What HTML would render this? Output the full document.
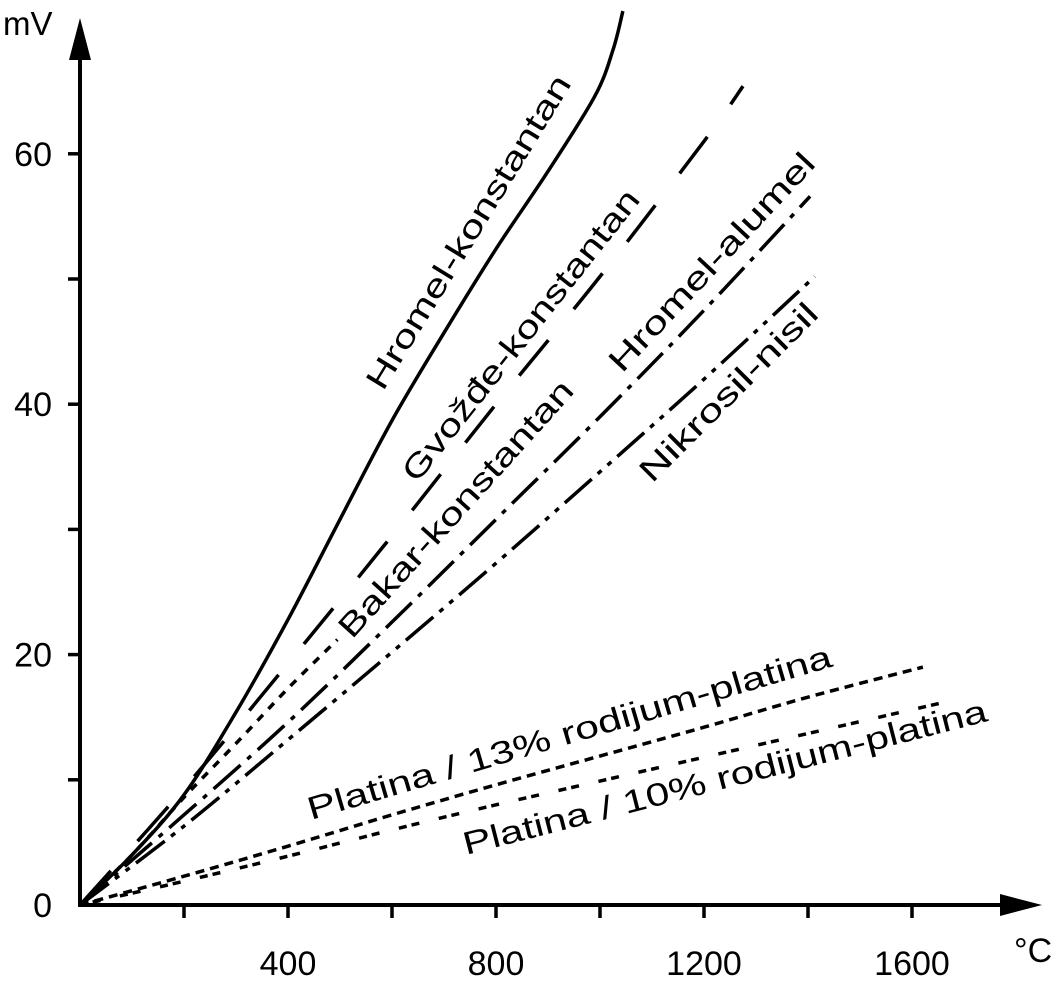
<!DOCTYPE html>
<html><head><meta charset="utf-8"><style>
html,body{margin:0;padding:0;background:#fff;}
svg{display:block;font-family:"Liberation Sans",sans-serif;}
</style></head><body>
<svg id="chart" width="1055" height="991" viewBox="0 0 1055 991" xmlns="http://www.w3.org/2000/svg">
<g id="axes"></g>
<g id="series"></g>
<g id="labels" font-size="32" fill="#000"></g>
</svg>
<script>
const xTicks = [200,400,600,800,1000,1200,1400,1600];
const xTickLabels = ["400","800","1200","1600"];
const xTickLabelValues = [400,800,1200,1600];
const yTicks = [10,20,30,40,50,60];
const yTickLabels = ["0","20","40","60"];
const yTickLabelValues = [0,20,40,60];

const hkT = [0,100,200,300,400,500,600,700,800,900,990,1025,1044];
const hkV = [0,4.0,8.8,15.4,22.8,30.8,38.7,45.7,52.4,58.6,64.6,68.3,71.4];
const gkT = [0,200,400,600,800,1000,1200,1275];
const gkV = [0,9.3,19.3,29.5,40,50.2,61,65.4];
const bkT = [0,100,200,300,400,495];
const bkV = [0,4,8.6,12.9,17.3,21.2];
const haT = [0,200,400,600,800,1000,1200,1404];
const haV = [0,7.2,14.6,22.6,30.8,39,47.5,56.6];
const nnT = [0,200,400,600,800,1000,1200,1413];
const nnV = [0,6.3,13.2,20.2,27.3,34.6,42,50.2];
const p13T = [0,200,400,600,800,1000,1200,1400,1621];
const p13V = [0,2.3,4.7,7.2,9.6,11.9,14.2,16.6,19.0];
const p10T = [0,200,400,600,800,1000,1200,1400,1663];
const p10V = [0,1.9,3.9,6.0,8.0,9.9,11.8,13.7,16.2];

const X0=80, Y0=905;
function xs(t){return X0 + t*0.52;}
function ys(v){return Y0 - v*12.52;}
const NS="http://www.w3.org/2000/svg";
function mk(tag, parent){const e=document.createElementNS(NS,tag);parent.appendChild(e);return e;}

const axes=document.getElementById('axes');
let yl=mk('line',axes);


yl.setAttribute('x1',X0);yl.setAttribute('y1',Y0+2);yl.setAttribute('x2',X0);yl.setAttribute('y2',50);
yl.setAttribute('stroke','#000');yl.setAttribute('stroke-width','4');
let ya=mk('polygon',axes);


ya.setAttribute('points','80,18 69,60 91,60');
let xl=mk('line',axes);


xl.setAttribute('x1',X0-2);xl.setAttribute('y1',Y0);xl.setAttribute('x2',1010);xl.setAttribute('y2',Y0);
xl.setAttribute('stroke','#000');xl.setAttribute('stroke-width','4');
let xa=mk('polygon',axes);


xa.setAttribute('points','1042,905 1000,894 1000,916');

xTicks.forEach(t=>{
  let l=mk('line',axes);
  
  
  l.setAttribute('x1',xs(t));l.setAttribute('x2',xs(t));l.setAttribute('y1',Y0);l.setAttribute('y2',Y0+13);
  l.setAttribute('stroke','#000');l.setAttribute('stroke-width','3.5');
});
yTicks.forEach(v=>{
  let l=mk('line',axes);
  
  
  l.setAttribute('x1',X0-12);l.setAttribute('x2',X0);l.setAttribute('y1',ys(v));l.setAttribute('y2',ys(v));
  l.setAttribute('stroke','#000');l.setAttribute('stroke-width','3.5');
});
xTickLabels.forEach((s,i)=>{
  let t=mk('text',axes);
  
  
  t.setAttribute('x',xs(xTickLabelValues[i]));t.setAttribute('y',975);
  t.setAttribute('text-anchor','middle');t.setAttribute('font-size','34');
  t.textContent=s;
});
yTickLabels.forEach((s,i)=>{
  let t=mk('text',axes);
  
  
  t.setAttribute('x',52);t.setAttribute('y',ys(yTickLabelValues[i])+12);
  t.setAttribute('text-anchor','end');t.setAttribute('font-size','34');
  t.textContent=s;
});
let mv=mk('text',axes);


mv.setAttribute('x',3);mv.setAttribute('y',35);mv.setAttribute('font-size','33');
mv.textContent='mV';
let dc=mk('text',axes);


dc.setAttribute('x',1014);dc.setAttribute('y',962);dc.setAttribute('font-size','34');
dc.textContent='°C';

function smoothPath(T,V){
  const p=T.map((t,i)=>[xs(t),ys(V[i])]);
  let d='M'+p[0][0]+','+p[0][1];
  for(let i=0;i<p.length-1;i++){
    const p0=p[Math.max(0,i-1)],p1=p[i],p2=p[i+1],p3=p[Math.min(p.length-1,i+2)];
    const c1=[p1[0]+(p2[0]-p0[0])/6,p1[1]+(p2[1]-p0[1])/6];
    const c2=[p2[0]-(p3[0]-p1[0])/6,p2[1]-(p3[1]-p1[1])/6];
    d+=' C'+c1[0]+','+c1[1]+' '+c2[0]+','+c2[1]+' '+p2[0]+','+p2[1];
  }
  return d;
}
const ser=document.getElementById('series');
function addSeries(name,T,V,dash){
  let p=mk('path',ser);
  
  
  p.setAttribute('d',smoothPath(T,V));
  p.setAttribute('fill','none');p.setAttribute('stroke','#000');p.setAttribute('stroke-width','3.5');
  if(dash)p.setAttribute('stroke-dasharray',dash);
}
addSeries('hromel-konstantan-line',hkT,hkV,null);
addSeries('gvozde-konstantan-line',gkT,gkV,'46 40');
addSeries('bakar-konstantan-line',bkT,bkV,'8 8');
addSeries('hromel-alumel-line',haT,haV,'36 9 5 9');
addSeries('nikrosil-nisil-line',nnT,nnV,'36 8 5 8 5 8');
addSeries('platina-13-line',p13T,p13V,'9 6');
addSeries('platina-10-line',p10T,p10V,'8 5 8 20');

const lab=document.getElementById('labels');
function addLabel(name,txt,x,y,ang,len){
  let t=mk('text',lab);
  
  
  t.setAttribute('x',x);t.setAttribute('y',y);
  t.setAttribute('transform','rotate('+(-ang)+' '+x+' '+y+')');
  t.setAttribute('textLength',len);t.setAttribute('lengthAdjust','spacingAndGlyphs');
  t.textContent=txt;
}
addLabel('hromel-konstantan-label','Hromel-konstantan',383,392,58.5,362);
addLabel('gvozde-konstantan-label','Gvožđe-konstantan',417,484,51.7,362);
addLabel('bakar-konstantan-label','Bakar-konstantan',352,640,48,334);
addLabel('hromel-alumel-label','Hromel-alumel',622,374,47,286);
addLabel('nikrosil-nisil-label','Nikrosil-nisil',652,484,45,238);
addLabel('platina-13-label','Platina / 13% rodijum-platina',311,820,16.4,545);
addLabel('platina-10-label','Platina / 10% rodijum-platina',466,855,14.4,540);
</script>
</body></html>
